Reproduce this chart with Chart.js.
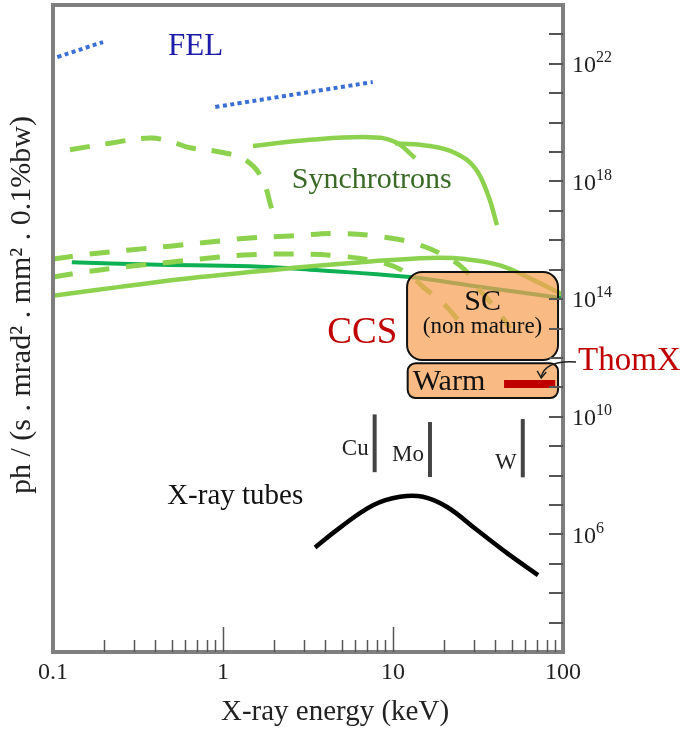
<!DOCTYPE html>
<html>
<head>
<meta charset="utf-8">
<script src="https://cdn.jsdelivr.net/npm/chart.js@4.4.1/dist/chart.umd.min.js"></script>
<style>
  html, body { margin: 0; padding: 0; background: #fff; }
  #wrap { width: 685px; height: 730px; }
</style>
</head>
<body>
<div id="wrap"><canvas id="brillianceChart" width="685" height="730"></canvas></div>
<script>
// energy in keV, brilliance in ph/(s.mrad2.mm2.0.1%bw)
const felLowE = [0.106, 0.197];
const felLowB = [1.7e22, 5.5e22];
const felHighE = [0.9, 7.6];
const felHighB = [3.4e20, 2.4e21];

const syncA_E = [0.126, 0.216, 0.372, 0.488, 0.64, 0.96, 1.35, 1.69, 1.94];
const syncA_B = [1.2e19, 2.0e19, 3.0e19, 2.3e19, 1.4e19, 1.0e19, 5.4e18, 1.3e18, 1.1e17];

const syncB1_E = [1.5, 3.25, 7.33, 10.3, 13.5];
const syncB1_B = [1.6e19, 2.6e19, 3.2e19, 2.2e19, 6.3e18];

const syncB2_E = [10.3, 16.5, 23.2, 30.3, 36.2, 40.9];
const syncB2_B = [2.0e19, 1.6e19, 9.3e18, 2.9e18, 3.5e17, 3.3e16];

const syncC_E = [0.1, 0.165, 0.284, 0.488, 0.838, 1.44, 2.48, 4.88, 9.6, 14.4, 20.2, 26.5, 32.5, 40.9, 48.8];
const syncC_B = [2.3e15, 3.4e15, 4.7e15, 6.3e15, 8.7e15, 1.2e16, 1.4e16, 1.7e16, 1.2e16, 6.9e15, 2.9e15, 9.8e14, 2.0e14, 4.3e13, 1.0e13];

const syncD_E = [0.1, 0.165, 0.284, 0.488, 0.838, 1.44, 2.84, 4.88, 8.4, 11.8, 15.4, 20.2, 26.5];
const syncD_B = [5.6e14, 8.9e14, 1.3e15, 1.8e15, 2.5e15, 3.2e15, 3.4e15, 2.9e15, 1.8e15, 8.3e14, 2.3e14, 6.3e13, 1.0e13];

const syncE_E = [0.1, 0.248, 0.733, 2.84, 7.33, 16.5, 26.5, 42.6, 66.7, 100];
const syncE_B = [1.3e14, 2.6e14, 5.6e14, 1.2e15, 1.9e15, 2.5e15, 2.3e15, 1.4e15, 4.5e14, 1.4e14];

const syncF_E = [0.129, 0.372, 1.44, 3.25, 12.6, 27.2, 55.8, 100];
const syncF_B = [1.8e15, 1.5e15, 1.3e15, 1.0e15, 5.6e14, 3.0e14, 1.7e14, 1.07e14];

const tubeE = [3.48, 4.88, 7.63, 11.0, 15.0, 20.8, 31.2, 46.9, 71.3];
const tubeB = [3.6e5, 1.7e6, 9.8e6, 1.9e7, 1.9e7, 8.5e6, 1.4e6, 2.3e5, 4.1e4];

// anode K lines
const anodeNames = ['Cu', 'Mo', 'W'];
const anodeE = [7.8, 16.5, 58];
const anodeLow = [1.3e8, 8.9e7, 8.7e7];
const anodeHigh = [1.2e10, 6.6e9, 8.3e9];
const anodeLabelB = [7.9e8, 4.9e8, 2.6e8];

// compact source regions
const scE = [12.1, 93.5];
const scB = [8.5e11, 8.3e14];
const warmE = [12.2, 93.5];
const warmB = [4.3e10, 6.6e11];
const thomxE = [45, 90];
const thomxB = 1.3e11;

const xTickLabels = ['0.1', '1', '10', '100'];
const xTickValues = [0.1, 1, 10, 100];
const yLabelExps = [22, 18, 14, 10, 6];

const SERIF = '"Liberation Serif", "DejaVu Serif", serif';
const LIGHT = '#8cd24f';
const DARK = '#0db052';
const FELBLUE = '#3a6fd6';

function pts(xs, ys) {
    return xs.map((v, i) => ({ x: v, y: ys[i] }));
}

function curve(xs, ys, color, width, dash) {
    return {
        data: pts(xs, ys),
        borderColor: color,
        borderWidth: width,
        borderDash: dash || [],
        borderCapStyle: 'butt',
        pointRadius: 0,
        tension: 0.4,
        fill: false
    };
}

const datasets = [
    curve(syncA_E, syncA_B, LIGHT, 5, [20, 16]),
    curve(syncB1_E, syncB1_B, LIGHT, 4.5),
    curve(syncB2_E, syncB2_B, LIGHT, 4.5),
    curve(syncC_E, syncC_B, LIGHT, 5, [20, 17]),
    curve(syncD_E, syncD_B, LIGHT, 5, [20, 17]),
    curve(syncE_E, syncE_B, LIGHT, 4.5),
    curve(syncF_E, syncF_B, DARK, 4),
    curve(felLowE, felLowB, FELBLUE, 4, [4, 3.5]),
    curve(felHighE, felHighB, FELBLUE, 4, [4, 3.5]),
    curve(tubeE, tubeB, '#000', 4.5)
];
anodeE.forEach((e, i) => {
    datasets.push(curve([e, e], [anodeLow[i], anodeHigh[i]], '#444', 4));
});

function text(ctx, str, x, y, size, color, align) {
    ctx.font = size + 'px ' + SERIF;
    ctx.fillStyle = color;
    ctx.textAlign = align || 'center';
    ctx.textBaseline = 'middle';
    ctx.fillText(str, x, y);
}

const decor = {
    id: 'decor',
    afterDatasetsDraw(chart) {
        const { ctx, chartArea: a, scales: { x, y } } = chart;
        ctx.save();

        // CCS boxes, drawn over the curves
        function box(es, bs, r) {
            const x0 = x.getPixelForValue(es[0]), x1 = x.getPixelForValue(es[1]);
            const y0 = y.getPixelForValue(bs[1]), y1 = y.getPixelForValue(bs[0]);
            ctx.beginPath();
            ctx.roundRect(x0, y0, x1 - x0, y1 - y0, r);
            ctx.fillStyle = 'rgba(247,160,85,0.72)';
            ctx.fill();
            ctx.lineWidth = 2;
            ctx.strokeStyle = '#111';
            ctx.stroke();
            return { x0, x1, y0, y1 };
        }
        const sc = box(scE, scB, 15);
        const warm = box(warmE, warmB, 8);

        // ThomX bar
        const ty = y.getPixelForValue(thomxB);
        ctx.beginPath();
        ctx.moveTo(x.getPixelForValue(thomxE[0]), ty);
        ctx.lineTo(x.getPixelForValue(thomxE[1]), ty);
        ctx.lineWidth = 8;
        ctx.strokeStyle = '#c00000';
        ctx.stroke();

        // frame
        ctx.lineWidth = 4;
        ctx.strokeStyle = '#7f7f7f';
        ctx.strokeRect(a.left, a.top, a.right - a.left, a.bottom - a.top);

        // x ticks, inside, from bottom
        ctx.strokeStyle = '#555';
        ctx.lineWidth = 1.5;
        [0.1, 1, 10].forEach(d => {
            for (let k = 1; k <= 9; k++) {
                const v = d * k;
                if (v <= 0.1) continue;
                const px = Math.round(x.getPixelForValue(v)) + 0.5;
                const len = (k === 1) ? 25 : 12;
                ctx.beginPath();
                ctx.moveTo(px, a.bottom);
                ctx.lineTo(px, a.bottom - len);
                ctx.stroke();
            }
        });
        // y ticks, inside, from right
        ctx.lineWidth = 2;
        for (let e = 3; e <= 23; e++) {
            const py = Math.round(y.getPixelForValue(Math.pow(10, e)));
            ctx.beginPath();
            ctx.moveTo(a.right - 14, py);
            ctx.lineTo(a.right, py);
            ctx.stroke();
        }

        // tick labels
        xTickValues.forEach((v, i) => {
            text(ctx, xTickLabels[i], x.getPixelForValue(v), a.bottom + 21, 24, '#222');
        });
        yLabelExps.forEach(e => {
            const py = y.getPixelForValue(Math.pow(10, e));
            ctx.font = '24px ' + SERIF;
            const w = ctx.measureText('10').width;
            text(ctx, '10', a.right + 9, py + 2, 24, '#222', 'left');
            text(ctx, String(e), a.right + 9 + w, py - 6, 16, '#222', 'left');
        });

        // axis titles
        text(ctx, 'X-ray energy (keV)', 335, 712, 29, '#222');
        ctx.save();
        ctx.translate(22, 305);
        ctx.rotate(-Math.PI / 2);
        text(ctx, 'ph / (s . mrad\u00b2 . mm\u00b2 . 0.1%bw)', 0, 0, 30, '#222');
        ctx.restore();

        // region labels
        text(ctx, 'FEL', x.getPixelForValue(0.69), y.getPixelForValue(3.7e22), 31, '#1c1ca8');
        text(ctx, 'Synchrotrons', x.getPixelForValue(7.5), y.getPixelForValue(1.1e18), 30, '#3a6a26');
        text(ctx, 'CCS', x.getPixelForValue(6.6), y.getPixelForValue(6.9e12), 37, '#c00000');
        text(ctx, 'X-ray tubes', x.getPixelForValue(1.18), y.getPixelForValue(2.0e7), 29, '#111');
        const cx = (sc.x0 + sc.x1) / 2;
        text(ctx, 'SC', cx, sc.y0 + 30, 30, '#111');
        text(ctx, '(non mature)', cx, sc.y0 + 55, 23, '#111');
        text(ctx, 'Warm', warm.x0 + 5, (warm.y0 + warm.y1) / 2 + 1, 30, '#111', 'left');
        text(ctx, 'ThomX', a.right + 15, ty - 23, 33, '#c00000', 'left');

        // arrow from ThomX label to bar
        const ax0 = a.right + 13, ay0 = ty - 22;
        const ax1 = x.getPixelForValue(thomxE[1]) - 14, ay1 = ty - 7;
        ctx.beginPath();
        ctx.moveTo(ax0, ay0);
        ctx.quadraticCurveTo(ax1 + 4, ay0 - 2, ax1, ay1);
        ctx.lineWidth = 1.5;
        ctx.strokeStyle = '#222';
        ctx.stroke();
        ctx.beginPath();
        ctx.moveTo(ax1 - 4, ay1 - 6);
        ctx.lineTo(ax1, ay1 + 1);
        ctx.lineTo(ax1 + 5, ay1 - 5);
        ctx.stroke();

        anodeNames.forEach((n, i) => {
            const px = x.getPixelForValue(anodeE[i]);
            text(ctx, n, px - 6, y.getPixelForValue(anodeLabelB[i]), 23, '#222', 'right');
        });

        ctx.restore();
    }
};

const ctx = document.getElementById('brillianceChart').getContext('2d');
new Chart(ctx, {
    type: 'line',
    data: { datasets: datasets },
    options: {
        responsive: false,
        animation: false,
        devicePixelRatio: 1,
        layout: { padding: { left: 53, right: 122, top: 5, bottom: 78 } },
        plugins: { legend: { display: false }, tooltip: { enabled: false } },
        scales: {
            x: { type: 'logarithmic', min: 0.1, max: 100, display: false },
            y: { type: 'logarithmic', min: 1e2, max: 1e24, display: false }
        }
    },
    plugins: [decor]
});
</script>
</body>
</html>
